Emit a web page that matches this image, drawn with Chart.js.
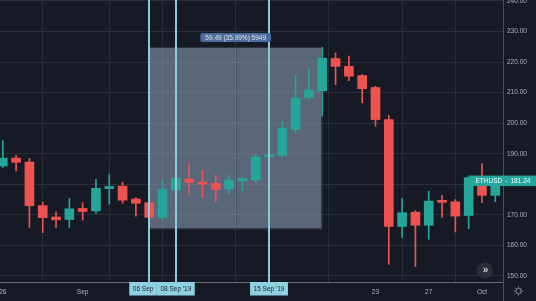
<!DOCTYPE html>
<html><head><meta charset="utf-8">
<script src="https://cdn.jsdelivr.net/npm/chart.js@4"></script>
<style>html,body{margin:0;padding:0;background:#161a25;overflow:hidden}#wrap{width:536px;height:301px;position:relative}canvas{display:block}</style>
</head><body><div id="wrap"><canvas id="c" width="536" height="301"></canvas></div>
<script>
// Days: index 0 = 26 Aug 2019 ... index 37 = 02 Oct 2019
const dayLabels = ['26 Aug','27 Aug','28 Aug','29 Aug','30 Aug','31 Aug','01 Sep','02 Sep','03 Sep','04 Sep','05 Sep','06 Sep','07 Sep','08 Sep','09 Sep','10 Sep','11 Sep','12 Sep','13 Sep','14 Sep','15 Sep','16 Sep','17 Sep','18 Sep','19 Sep','20 Sep','21 Sep','22 Sep','23 Sep','24 Sep','25 Sep','26 Sep','27 Sep','28 Sep','29 Sep','30 Sep','01 Oct','02 Oct'];
const opens  = [186.0,188.6,187.3,173.0,169.3,168.5,172.1,171.3,178.6,179.4,175.2,174.0,169.2,178.1,181.7,180.7,180.3,178.5,181.2,181.4,189.0,189.5,198.0,208.4,210.6,221.2,218.6,215.6,211.7,201.2,166.2,170.9,166.6,174.6,174.3,169.8,182.2,176.4];
const highs  = [194.3,189.5,188.5,174.2,171.0,175.4,174.0,181.6,183.3,180.7,175.7,178.1,181.4,184.8,186.8,184.6,183.0,183.0,182.3,189.9,191.0,200.6,215.8,217.8,224.8,223.0,222.0,216.0,212.1,202.6,175.4,171.4,177.8,176.4,175.0,182.8,186.8,182.0];
const lows   = [185.5,184.4,165.9,164.2,165.9,165.9,168.3,170.5,173.5,173.8,169.6,165.31,168.3,177.2,176.5,175.7,174.3,177.0,177.9,180.5,186.3,189.0,196.6,207.8,202.3,212.6,213.9,206.7,199.0,153.8,162.6,153.1,162.0,169.2,164.4,165.5,174.0,174.3];
const closes = [188.6,187.2,173.0,169.1,168.4,172.0,171.1,178.7,179.3,174.8,173.8,169.2,178.3,182.0,180.6,180.0,178.3,181.4,181.6,189.0,189.6,198.4,208.2,210.8,221.3,218.6,215.4,211.3,201.2,166.2,170.7,166.6,174.5,174.1,169.6,182.2,176.4,181.24];

const xTickIdx = [0,6,10,14,21,28,32,36];
const xTickText = {0:'26',6:'Sep',28:'23',32:'27',36:'Oct'};
const yTicks = [150,160,170,180,190,200,210,220,230,240];

const measureRange = [11,24];          // 06 Sep .. 19 Sep
const measurePrices = [165.31,224.80];  // low .. high
const measureText = '59.49 (35.99%) 5949';
const markerIdx = [11,13,20];
const markerText = ['06 Sep',"08 Sep '19","15 Sep '19"];
const lastPrice = 181.24;
const symbolName = 'ETHUSD';

const UP='#26a69a', DOWN='#ef5350';
const FONT='"Liberation Sans", Arial, sans-serif';
const isUp = closes.map((c,i)=>c>=opens[i]);

const bodies = opens.map((o,i)=>({x:i,y:[Math.min(o,closes[i]),Math.max(o,closes[i])]}));
const wicks = lows.map((l,i)=>({x:i,y:[l,highs[i]]}));

const overlay = {
  id:'overlay',
  beforeDatasetsDraw(chart){
    const {ctx,scales:{x,y}} = chart;
    const x0=x.getPixelForValue(measureRange[0]), x1=x.getPixelForValue(measureRange[1]);
    const y0=y.getPixelForValue(measurePrices[1]), y1=y.getPixelForValue(measurePrices[0]);
    ctx.save();
    ctx.fillStyle='rgba(137,154,179,0.6)';
    ctx.fillRect(x0,y0,x1-x0,y1-y0);
    ctx.strokeStyle='rgba(45,50,64,0.9)';ctx.lineWidth=1;
    ctx.strokeRect(Math.round(x0)+0.5,Math.round(y0)+0.5,Math.round(x1-x0)-1,Math.round(y1-y0)-1);
    const xm=Math.round((x0+x1)/2)+0.5;
    ctx.setLineDash([2,2]);ctx.strokeStyle='rgba(55,60,75,0.8)';
    ctx.beginPath();ctx.moveTo(xm,y0);ctx.lineTo(xm,y1);ctx.stroke();
    ctx.restore();
  },
  afterDatasetsDraw(chart){
    const {ctx,chartArea,scales:{x}} = chart;
    ctx.save();
    ctx.strokeStyle='#8accde';ctx.lineWidth=2;
    markerIdx.forEach(i=>{
      const px=Math.round(x.getPixelForValue(i));
      ctx.beginPath();ctx.moveTo(px,0);ctx.lineTo(px,chartArea.bottom);ctx.stroke();
    });
    ctx.restore();
  },
  afterDraw(chart){
    const {ctx,chartArea,scales:{x,y}} = chart;
    ctx.save();
    // right axis separator
    ctx.strokeStyle='#4c505b';ctx.lineWidth=1;
    ctx.beginPath();ctx.moveTo(chartArea.right+0.5,0);ctx.lineTo(chartArea.right+0.5,301);ctx.stroke();
    // measure tooltip
    const x0=x.getPixelForValue(measureRange[0]), x1=x.getPixelForValue(measureRange[1]);
    const yTop=y.getPixelForValue(measurePrices[1]);
    const xm=(x0+x1)/2;
    ctx.font='6.5px '+FONT;
    const tw=ctx.measureText(measureText).width;
    const bw=tw+10,bh=9;
    ctx.fillStyle='#4b6b9c';
    ctx.beginPath();ctx.roundRect(xm-bw/2,yTop-14.5,bw,bh,2);ctx.fill();
    ctx.fillStyle='#dfe3ec';ctx.textAlign='center';ctx.textBaseline='middle';
    ctx.fillText(measureText,xm,yTop-14.5+bh/2+0.3);
    // bottom marker labels
    const boxes=markerIdx.map((i,k)=>{
      const w=ctx.measureText(markerText[k]).width+7;
      const c=x.getPixelForValue(i);
      return {l:c-w/2,w,t:markerText[k]};
    });
    for(let k=boxes.length-2;k>=0;k--){
      const b=boxes[k],n=boxes[k+1];
      if(b.l+b.w>n.l){b.l=n.l-b.w;}
    }
    boxes.forEach(b=>{
      ctx.fillStyle='#8fd0e1';
      ctx.fillRect(b.l,chartArea.bottom,b.w,13.5);
      ctx.fillStyle='#1b2230';ctx.textAlign='center';
      ctx.fillText(b.t,b.l+b.w/2,chartArea.bottom+7);
    });
    // last price label
    const py=y.getPixelForValue(lastPrice);
    ctx.fillStyle=UP;
    ctx.fillRect(470,py-5,66,10.5);
    ctx.fillStyle='#ffffff';ctx.textAlign='left';
    ctx.fillText(symbolName,475.5,py+0.5);
    ctx.fillText('-',505,py+0.5);
    ctx.fillText(lastPrice.toFixed(2),510.5,py+0.5);
    // scroll button
    ctx.fillStyle='#2a2e39';
    ctx.beginPath();ctx.arc(485,270.5,8,0,Math.PI*2);ctx.fill();
    ctx.fillStyle='#d1d4dc';ctx.textAlign='center';ctx.font='bold 10px '+FONT;
    ctx.fillText('\u00bb',485.5,270);
    // gear
    ctx.strokeStyle='#8a8d97';ctx.lineWidth=1;
    const gx=518.5,gy=291;
    ctx.beginPath();ctx.arc(gx,gy,2.6,0,Math.PI*2);ctx.stroke();
    for(let a=0;a<8;a++){
      const ang=a*Math.PI/4;
      ctx.beginPath();ctx.moveTo(gx+Math.cos(ang)*3.2,gy+Math.sin(ang)*3.2);
      ctx.lineTo(gx+Math.cos(ang)*4.6,gy+Math.sin(ang)*4.6);ctx.stroke();
    }
    ctx.restore();
  }
};

new Chart(document.getElementById('c'),{
  type:'bar',
  data:{
    labels:dayLabels,
    datasets:[
      {label:'body',data:bodies,backgroundColor:isUp.map(u=>u?UP:DOWN),barThickness:9,minBarLength:2,grouped:false,order:0},
      {label:'wick',data:wicks,backgroundColor:isUp.map(u=>u?UP:DOWN),barThickness:1,grouped:false,order:1}
    ]
  },
  options:{
    responsive:false,animation:false,devicePixelRatio:1,events:[],
    layout:{padding:0},
    plugins:{legend:{display:false},tooltip:{enabled:false}},
    scales:{
      x:{type:'linear',min:-0.21,max:37.58,offset:false,
        grid:{color:'#2a2e39',drawTicks:false,tickLength:0},
        border:{display:true,color:'#6a6d78'},
        ticks:{autoSkip:false,maxRotation:0,color:'#b2b5be',font:{size:6.5,family:FONT},padding:6,
          callback:v=>xTickText[v]??''},
        afterBuildTicks:s=>{s.ticks=xTickIdx.map(v=>({value:v}));},
        afterFit:s=>{s.height=19;s.paddingLeft=0;s.paddingRight=0;}
      },
      y:{type:'linear',position:'right',min:148.036,max:240.327,
        grid:{color:'#2a2e39',drawTicks:false,tickLength:0},
        border:{display:false},
        ticks:{includeBounds:false,color:'#b2b5be',font:{size:6.5,family:FONT},padding:4,
          callback:v=>Number(v).toFixed(2)},
        afterBuildTicks:s=>{s.ticks=yTicks.map(v=>({value:v}));},
        afterFit:s=>{s.width=33;s.paddingTop=0;s.paddingBottom=0;}
      }
    }
  },
  plugins:[overlay]
});
</script></body></html>
